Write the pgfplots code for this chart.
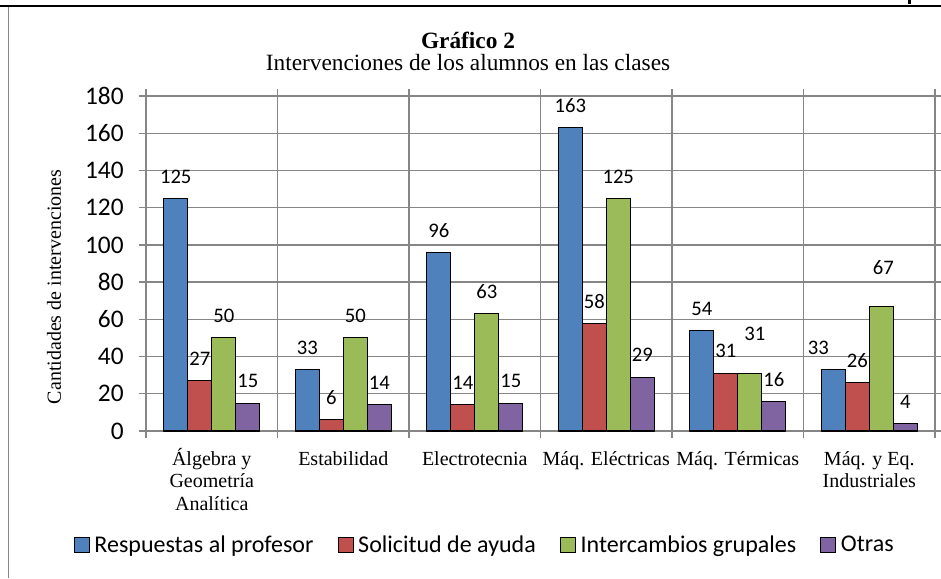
\documentclass[border=0pt]{standalone}
\usepackage{pgfplots}
\usepackage{pgfplotstable}
\pgfplotsset{compat=1.18}
\usepackage{fontspec}
\setmainfont{Liberation Serif}
\newfontfamily\calfont{Carlito}
\definecolor{cblue}{HTML}{4F81BD}
\definecolor{cred}{HTML}{C0504D}
\definecolor{cgreen}{HTML}{9BBB59}
\definecolor{cpurple}{HTML}{8064A2}
\definecolor{gridgray}{RGB}{134,134,134}
\newcommand\fl{\rule{0pt}{14pt}}

\pgfplotstableread{
x y dx dy
0 125 0 22
1 33 0 22
2 96 0 22
3 163 0 22
4 54 0 22
5 33 -15 22
}\resp
\pgfplotstableread{
x y dx dy
0 27 0 22
1 6 0 22
2 14 0 22
3 58 0 22
4 31 0 22
5 26 0 22
}\solic
\pgfplotstableread{
x y dx dy
0 50 0 22
1 50 0 22
2 63 0 22
3 125 0 22
4 31 5 39
5 67 2 39
}\inter
\pgfplotstableread{
x y dx dy
0 15 0 22
1 14 0 22
2 15 0 22
3 29 0 22
4 16 0 22
5 4 0 22
}\otras

\begin{document}
\begin{tikzpicture}
\useasboundingbox (0,0) rectangle (705.75pt,-433.5pt);
\begin{scope}[x=0.75pt,y=-0.75pt]
\fill[white] (0,0) rectangle (941,578);
\draw[black, line width=1.5pt] (0,5.5) -- (941,5.5);
\draw[gridgray, line width=1.2pt] (8.3,6.5) -- (8.3,578);
\fill[black] (908,0) rectangle (911,3.5);
\node[font=\bfseries\fontsize{17.5}{20}\selectfont] at (468,40) {Gráfico 2};
\node[font=\fontsize{17.5}{20}\selectfont] at (468,63) {Intervenciones de los alumnos en las clases};
\end{scope}
\begin{axis}[
  at={(109.5pt,-323.25pt)}, anchor=south west,
  scale only axis, width=591.75pt, height=251.25pt,
  xmin=-0.5, xmax=5.5, ymin=0, ymax=180,
  ytick={0,20,...,180},
  xtick={0,...,5},
  xticklabels={{\fl Álgebra y\\Geometría\\Analítica},{\fl Estabilidad},{\fl Electrotecnia},{\fl Máq. Eléctricas},{\fl Máq. Térmicas},{\fl Máq. y Eq.\\Industriales}},
  minor xtick={-0.5,0.5,...,5.5},
  xminorgrids, ymajorgrids,
  grid style={gridgray, line width=1pt},
  minor grid style={gridgray, line width=1pt},
  axis line style={gridgray, line width=1pt},
  tick align=outside,
  major tick length=5.25pt, minor tick length=5.25pt,
  tick style={gridgray, line width=1pt},
  xtick style={draw=none},
  minor x tick style={draw=gridgray},
  /pgf/number format/assume math mode=true,
  yticklabel style={font=\calfont\fontsize{19}{21}\selectfont, xshift=-8pt},
  xticklabel style={font=\fontsize{15}{16.8}\selectfont, align=center, anchor=north, yshift=-3pt},
  ylabel={Cantidades de intervenciones},
  ylabel style={font=\fontsize{15}{17}\selectfont, at={(axis description cs:-0.1166,0.43)}, anchor=center},
  ybar=0pt, bar width=0.1825,
  every axis plot/.append style={draw=black, line width=0.8pt},
  visualization depends on={\thisrow{dx} \as \dx},
  visualization depends on={\thisrow{dy} \as \dy},
  nodes near coords,
  nodes near coords style={font=\calfont\fontsize{15.5}{17}\selectfont, text=black, anchor=center, xshift=0.75*\dx pt, yshift=0.75*\dy pt},
  legend columns=4,
  legend style={at={(0.4297,-0.340)}, anchor=center, draw=none, fill=none,
    font=\calfont\fontsize{18}{20}\selectfont,
    /tikz/every odd column/.append style={column sep=1.5pt},
    /tikz/every even column/.append style={column sep=16pt}},
  legend image code/.code={\draw[#1, draw=black, line width=0.8pt] (0pt,-5.6pt) rectangle (11.25pt,5.6pt);},
]
\addplot[fill=cblue, bar shift=-0.27375] table[x=x,y=y] {\resp};
\addplot[fill=cred, bar shift=-0.09125] table[x=x,y=y] {\solic};
\addplot[fill=cgreen, bar shift=0.09125] table[x=x,y=y] {\inter};
\addplot[fill=cpurple, bar shift=0.27375] table[x=x,y=y] {\otras};
\legend{Respuestas al profesor, Solicitud de ayuda, Intercambios grupales, Otras}
\end{axis}
\end{tikzpicture}
\end{document}
